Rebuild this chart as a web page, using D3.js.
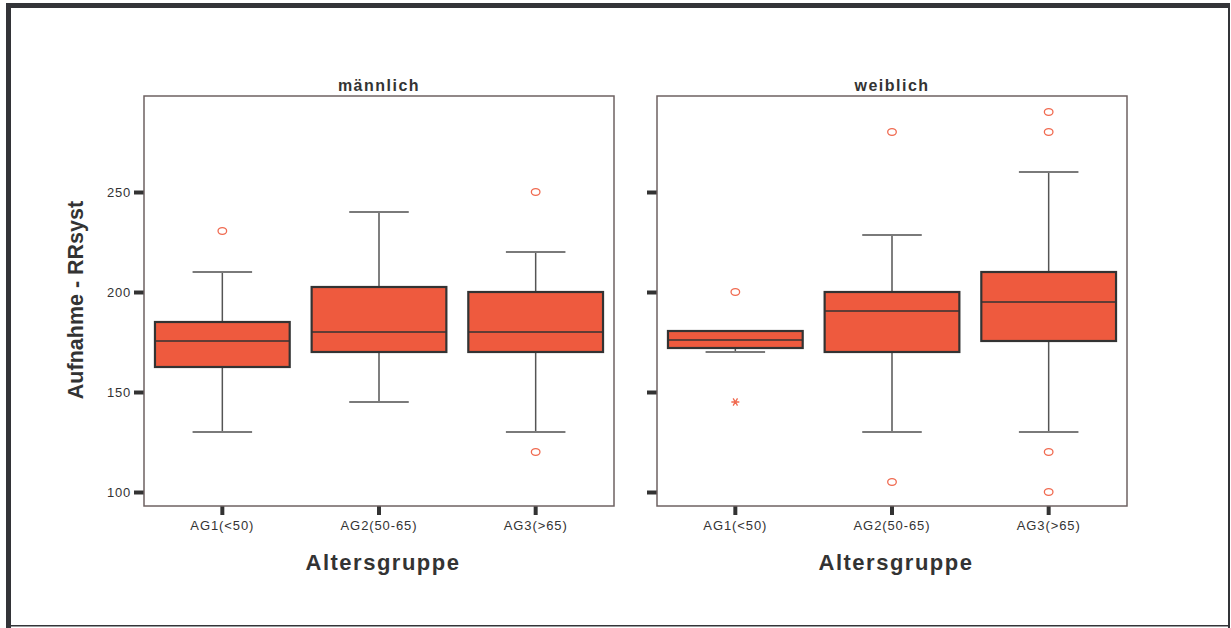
<!DOCTYPE html>
<html>
<head>
<meta charset="utf-8">
<script src="https://cdn.jsdelivr.net/npm/d3@7"></script>
<style>
  body { margin: 0; background: #fff; }
  svg { display: block; font-family: "Liberation Sans", Arial, sans-serif; }
</style>
</head>
<body>
<div id="chart"></div>
<script>
// data
const categories = ['AG1(<50)', 'AG2(50-65)', 'AG3(>65)']
const panels = ['männlich', 'weiblich']
const yTicks = [100, 150, 200, 250]

// per panel, in category order
const q1 = [[162.5, 170, 170], [172, 170, 175.5]]
const median = [[175.5, 180, 180], [176, 190.5, 195]]
const q3 = [[185, 202.5, 200], [180.5, 200, 210]]
const whiskerLow = [[130, 145, 130], [170, 130, 130]]
const whiskerHigh = [[210, 240, 220], [180.5, 228.5, 260]]
const outliers = [[[230.5], [], [250, 120]], [[200], [280, 105], [290, 280, 120, 100]]]
const extremes = [[[], [], []], [[145], [], []]]

const W = 1231, H = 628
const fill = '#ee5a3e', dark = '#333333', pointColor = '#f06a50'

const svg = d3.select('#chart').append('svg')
  .attr('width', W)
  .attr('height', H)

// outer frame
svg.append('rect').attr('x', 6).attr('y', 3).attr('width', W - 8).attr('height', 5).attr('fill', '#333438')
svg.append('rect').attr('x', 6).attr('y', 3).attr('width', 5).attr('height', H - 3).attr('fill', '#333438')
svg.append('rect').attr('x', W - 3).attr('y', 3).attr('width', 2).attr('height', H - 3).attr('fill', '#333438')
svg.append('rect').attr('x', 6).attr('y', H - 3).attr('width', W - 7).attr('height', 1.5).attr('fill', '#333438')

const panelLeft = [144, 657]
const panelW = 470, panelTop = 96, panelBottom = 506

const y = d3.scaleLinear().domain([93, 298]).range([panelBottom, panelTop])

panels.forEach((name, p) => {
  const g = svg.append('g')
  const x = d3.scaleBand().domain(categories)
    .range([panelLeft[p], panelLeft[p] + panelW])

  const bw = x.bandwidth() * 0.86
  const cap = x.bandwidth() * 0.38

  // y axis
  const ya = g.append('g')
    .attr('transform', `translate(${panelLeft[p]},0)`)
    .call(d3.axisLeft(y).tickValues(yTicks).tickSize(10).tickPadding(3)
      .tickFormat(p === 0 ? d3.format('d') : () => ''))
  ya.select('.domain').remove()
  ya.selectAll('.tick line').attr('stroke', dark).attr('stroke-width', 4)
  ya.selectAll('.tick text').attr('fill', dark).style('font-size', '13px').style('letter-spacing', '0.8px')

  // x axis
  const xa = g.append('g')
    .attr('transform', `translate(0,${panelBottom})`)
    .call(d3.axisBottom(x).tickSize(9).tickPadding(6))
  xa.select('.domain').remove()
  xa.selectAll('.tick line').attr('stroke', dark).attr('stroke-width', 4)
  xa.selectAll('.tick text').attr('fill', dark).style('font-size', '13px').style('letter-spacing', '0.9px')

  categories.forEach((c, i) => {
    const cx = x(c) + x.bandwidth() / 2
    // whiskers
    g.append('line').attr('x1', cx).attr('x2', cx)
      .attr('y1', y(q3[p][i])).attr('y2', y(whiskerHigh[p][i]))
      .attr('stroke', '#555').attr('stroke-width', 1.5)
    g.append('line').attr('x1', cx).attr('x2', cx)
      .attr('y1', y(q1[p][i])).attr('y2', y(whiskerLow[p][i]))
      .attr('stroke', '#555').attr('stroke-width', 1.5)
    ;[whiskerHigh[p][i], whiskerLow[p][i]].forEach(v => {
      g.append('line').attr('x1', cx - cap / 2).attr('x2', cx + cap / 2)
        .attr('y1', y(v)).attr('y2', y(v))
        .attr('stroke', '#7a7a7a').attr('stroke-width', 2)
    })
    // box
    g.append('rect')
      .attr('x', cx - bw / 2).attr('width', bw)
      .attr('y', y(q3[p][i])).attr('height', y(q1[p][i]) - y(q3[p][i]))
      .attr('fill', fill).attr('stroke', dark).attr('stroke-width', 2.2)
    g.append('line').attr('x1', cx - bw / 2).attr('x2', cx + bw / 2)
      .attr('y1', y(median[p][i])).attr('y2', y(median[p][i]))
      .attr('stroke', dark).attr('stroke-width', 1.5)
    // outliers
    g.selectAll(null).data(outliers[p][i]).enter().append('ellipse')
      .attr('cx', cx).attr('cy', d => y(d))
      .attr('rx', 4.3).attr('ry', 3.4)
      .attr('fill', 'none').attr('stroke', pointColor).attr('stroke-width', 1.3)
    // extremes
    g.selectAll(null).data(extremes[p][i]).enter().append('path')
      .attr('transform', d => `translate(${cx},${y(d)})`)
      .attr('d', 'M-4,0H4M-2.2,-3.6L2.2,3.6M-2.2,3.6L2.2,-3.6M0,-1V1')
      .attr('fill', 'none').attr('stroke', pointColor).attr('stroke-width', 1.3)
  })

  // panel frame
  g.append('rect')
    .attr('x', panelLeft[p]).attr('y', panelTop)
    .attr('width', panelW).attr('height', panelBottom - panelTop)
    .attr('fill', 'none').attr('stroke', '#6e6262').attr('stroke-width', 1.5)

  // panel title
  g.append('text')
    .attr('x', panelLeft[p] + panelW / 2).attr('y', 91)
    .attr('text-anchor', 'middle')
    .attr('fill', dark)
    .style('font-size', '16px').style('font-weight', 'bold').style('letter-spacing', '1.5px')
    .text(name)

  // x title
  g.append('text')
    .attr('x', panelLeft[p] + panelW / 2 + 4).attr('y', 570)
    .attr('text-anchor', 'middle')
    .attr('fill', dark)
    .style('font-size', '22px').style('font-weight', 'bold').style('letter-spacing', '1.5px')
    .text('Altersgruppe')
})

// y title
svg.append('text')
  .attr('transform', 'translate(83,300) rotate(-90)')
  .attr('text-anchor', 'middle')
  .attr('fill', dark)
  .style('font-size', '21.5px').style('font-weight', 'bold')
  .text('Aufnahme - RRsyst')
</script>
</body>
</html>
